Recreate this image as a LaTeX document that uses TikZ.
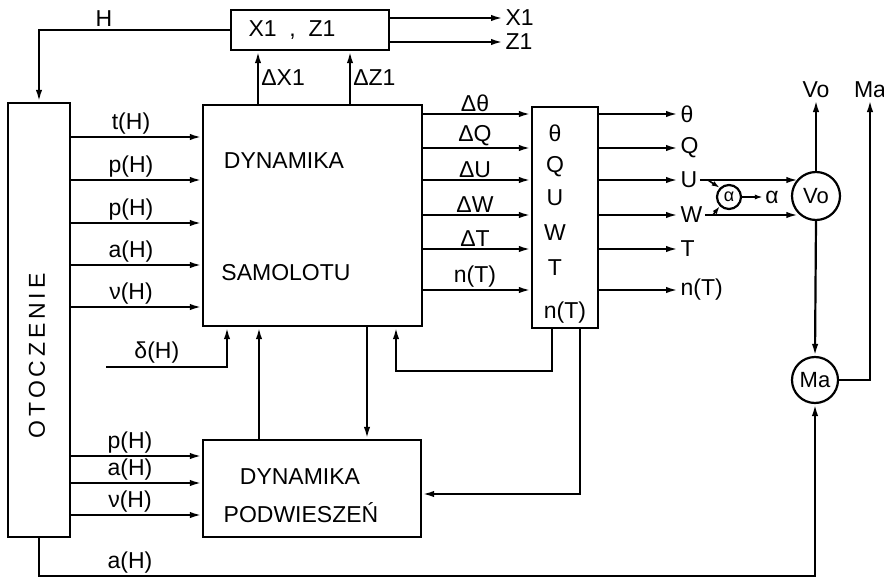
\documentclass[tikz,border=0pt]{standalone}
\usepackage{fontspec}
\setmainfont{Liberation Sans}
\usetikzlibrary{positioning,arrows.meta}
\tikzset{
  blk/.style={draw,line width=1.2pt,inner sep=0pt},
  txt/.style={font=\fontsize{11.5}{13}\selectfont,inner sep=1pt},
  lab/.style={font=\fontsize{11.5}{13}\selectfont,inner sep=1.1pt},
  sig/.style={-{Latex[length=6pt,width=3.2pt]},line width=1.1pt},
  smallsig/.style={-{Latex[length=4pt,width=2.6pt]},line width=0.8pt},
  ring/.style={draw,circle,line width=1.1pt,inner sep=0pt,
    font=\fontsize{11}{12}\selectfont}
}

\begin{document}
\begin{tikzpicture}[x=0.5pt,y=-0.5pt]
  \useasboundingbox (0,0) rectangle (884,578);
  % blocks
  \node[blk,minimum width=31pt,minimum height=217pt] (env) at (39,320) {};
  \node[txt,rotate=90] (envtxt) at (37,356) {O\,T\,O\,C\,Z\,E\,N\,I\,E};
  \node[blk,minimum width=109.5pt,minimum height=110.5pt] (dyn) at (312.5,215.5) {};
  \node[txt] (dyn1) at (284,161) {DYNAMIKA};
  \node[txt] (dyn2) at (286,273) {SAMOLOTU};
  \node[blk,minimum width=79pt,minimum height=20pt] (xz) at (310,30) {};
  \node[txt] (xztxt) at (292,30) {X1~~,~~Z1};
  \node[blk,minimum width=33pt,minimum height=110.5pt] (quwt) at (565,217.5) {};
  \foreach \y/\t [count=\i] in {133/θ,167/Q,198/U,233/W,268/T}
    \node[txt] (qt\i) at (555,\y) {\t};
  \node[txt] (qt6) at (565,313) {n(T)};
  \node[blk,minimum width=109pt,minimum height=48.5pt] (pod) at (312,488.5) {};
  \node[txt] (pod1) at (300,477) {DYNAMIKA};
  \node[txt] (pod2) at (301,513) {PODWIESZEŃ};
  \node[ring,minimum size=12pt,font=\fontsize{9}{10}\selectfont] (alf) at (729,197) {α};
  \node[lab] (alab) at (772,197) {α};
  \node[ring,minimum size=24pt] (vo) at (816,196) {Vo};
  \node[ring,minimum size=23pt] (ma) at (815,380) {Ma};
  \node[lab,anchor=south] (votop) at (816,100) {Vo};
  \node[lab,anchor=south] (matop) at (870,100) {Ma};

  % top part
  \draw[sig] (xz.west) -| node[lab,pos=0.33,above] (hlab) {H} (env.north);
  \coordinate (dx1) at ([xshift=-27.25pt]dyn.north);
  \coordinate (dz1) at ([xshift=18.75pt]dyn.north);
  \draw[sig] (dx1) -- (dx1 |- xz.south) node[lab,midway,right] (dx1lab) {ΔX1};
  \draw[sig] (dz1) -- (dz1 |- xz.south) node[lab,midway,right] (dz1lab) {ΔZ1};
  \node[lab,anchor=west] (x1) at (503,18) {X1};
  \node[lab,anchor=west] (z1) at (503,42) {Z1};
  \draw[sig] (xz.east |- x1) -- (x1.west);
  \draw[sig] (xz.east |- z1) -- (z1.west);

  % inputs
  \foreach \y/\t [count=\i] in {137/t(H),180/p(H),223/p(H),265/a(H),307/ν(H)}{
    \node[lab,anchor=south] (in\i) at (131,\y) {\t};
    \draw[sig] (env.east |- in\i.south) -- (dyn.west |- in\i.south);
  }
  \foreach \y/\t [count=\i] in {456/p(H),483/a(H),515/ν(H)}{
    \node[lab,anchor=south] (pin\i) at (130,\y) {\t};
    \draw[sig] (env.east |- pin\i.south) -- (pod.west |- pin\i.south);
  }
  \coordinate (dl) at (106,367);
  \coordinate (dd) at ([xshift=-42.75pt]dyn.south);
  \draw[sig] (dl) -| node[lab,pos=0.21,above] (dlab) {δ(H)} (dd);

  % outputs
  \foreach \y/\a/\b [count=\i] in {114/Δθ/θ,148/ΔQ/Q,180/ΔU/U,215/ΔW/W,249/ΔT/T,290/n(T)/n(T)}{
    \node[lab,anchor=south] (d\i) at (475,\y) {\a};
    \draw[sig] (dyn.east |- d\i.south) -- (quwt.west |- d\i.south);
    \node[lab,anchor=west] (o\i) at (678,\y) {\b};
    \draw[sig] (quwt.east |- o\i) -- (o\i.west);
  }
  \draw[sig] (o3.east) -- (o3.east -| vo.135);
  \draw[sig] (o4.east) -- (o4.east -| vo.225);
  \draw[smallsig] ([xshift=4pt]o3.east) -- (alf.135);
  \draw[smallsig] ([xshift=4pt]o4.east) -- (alf.225);
  \draw[smallsig] (alf.east) -- (alab.west);
  \draw[sig] (vo.north) -- (votop.south);
  \draw[sig] (vo.south) -- (ma.north);
  \draw[sig] (ma.east) -| (matop.south);

  % feedback
  \coordinate (up1) at ([xshift=-26.5pt]pod.north);
  \draw[sig] (up1) -- (up1 |- dyn.south);
  \coordinate (dn1) at ([xshift=27.25pt]dyn.south);
  \draw[sig] (dn1) -- (dn1 |- pod.north);
  \coordinate (q1) at ([xshift=-6.5pt]quwt.south);
  \coordinate (fb) at (396,371);
  \draw[sig] (q1) |- (fb) -- (fb |- dyn.south);
  \coordinate (q2) at ([xshift=7.5pt]quwt.south);
  \draw[sig] (q2) |- ([yshift=-2.75pt]pod.east);

  % bottom
  \coordinate (bl) at (400,576);
  \draw[sig] (env.south) |- (bl) -| (ma.south);
  \node[lab,anchor=south] (alow) at (130,576) {a(H)};
\end{tikzpicture}
\end{document}
